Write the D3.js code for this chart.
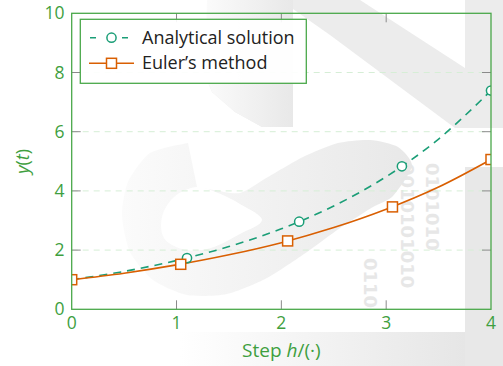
<!DOCTYPE html>
<html><head><meta charset="utf-8">
<script src="https://cdn.jsdelivr.net/npm/d3@7"></script>
<style>
html,body{margin:0;padding:0;background:#fff;}
svg{display:block;font-family:"Open Sans","Noto Sans",sans-serif;}
</style></head>
<body>
<svg id="chart" width="503" height="366"></svg>
<script>
// ---- data ----
const curveX      = [0, 0.5, 1, 1.5, 2, 2.5, 3, 3.5, 4];
const analyticalY = [1, 1.28, 1.65, 2.12, 2.72, 3.49, 4.48, 5.75, 7.39];
const eulerY      = [1, 1.22, 1.5, 1.84, 2.25, 2.76, 3.38, 4.13, 5.06];
const analyticalMarkX = [0, 1.1, 2.17, 3.15, 4];
const analyticalMarkY = [1, 1.73, 2.96, 4.83, 7.39];
const eulerMarkX = [0, 1.04, 2.06, 3.06, 4];
const eulerMarkY = [1, 1.52, 2.31, 3.46, 5.06];
const xTicks = [0, 1, 2, 3, 4];
const yTicks = [0, 2, 4, 6, 8, 10];
const seriesNames = ["Analytical solution", "Euler\u2019s method"];
const seriesColors = ["#1b9e77", "#d95f02"];

const green = "#4aa84a", greenText = "#3f9f3f", tickGray = "#8a8a8a", gridGreen = "#d6eed6";
const svg = d3.select("#chart");

// ---- watermark background (decoration) ----
const defs = svg.append("defs");
const g1 = defs.append("linearGradient").attr("id","wm").attr("x1","0").attr("x2","1").attr("y1","0").attr("y2","0");
g1.append("stop").attr("offset","0").attr("stop-color","#fbfbfb");
g1.append("stop").attr("offset","1").attr("stop-color","#e8e8e8");
const g2 = defs.append("linearGradient").attr("id","wm2").attr("x1","0").attr("x2","1").attr("y1","0").attr("y2","0");
g2.append("stop").attr("offset","0").attr("stop-color","#ffffff");
g2.append("stop").attr("offset","1").attr("stop-color","#e6e6e6");

const bg = svg.append("g");
const line0 = d3.line().curve(d3.curveCatmullRomClosed);
const poly = d3.line();
bg.append("path").attr("fill","#ececec")
  .attr("d", poly([[213,0],[360,0],[465,68],[465,0],[503,0],[503,128],[455,128],[330,35],[293,9],[293,127],[262,127],[235,112],[212,92],[207,80]]) + "Z");
bg.append("path").attr("fill","url(#wm)")
  .attr("d", poly([[207,0],[293,0],[293,127],[262,127],[235,112],[212,92],[205,75]]) + "Z");
bg.append("rect").attr("x",465).attr("y",167).attr("width",38).attr("height",199).attr("fill","#e8e8e8");
bg.append("rect").attr("x",180).attr("y",332).attr("width",285).attr("height",34).attr("fill","url(#wm2)");
bg.append("path").attr("fill","url(#wm)")
  .attr("d", d3.line().curve(d3.curveCardinal.tension(0.3))([
    [188,143],[150,153],[128,182],[122,215],[130,252],[153,280],[187,295],[227,294],[267,278],
    [307,252],[340,228],[373,207],[393,196],[412,166],[398,147],[370,140],[338,143],[303,157],
    [268,177],[240,193],[214,190],[197,187]]) + "Z");
bg.append("path").attr("fill","#ffffff")
  .attr("d", line0([[197,187],[174,197],[162,217],[164,238],[182,249],[207,249],[240,234],[262,220],[240,204],[218,193]]));
const bin = [["0110",364,258],["0010101010",401,163],["0101010",426,163]];
bg.selectAll("text.bin").data(bin).enter().append("text")
  .attr("transform", d => `translate(${d[1]},${d[2]}) rotate(90)`)
  .attr("font-family","DejaVu Sans").attr("font-weight","bold").attr("font-size",18)
  .attr("fill","#e7e7e7").text(d => d[0]);

// ---- scales ----
const x = d3.scaleLinear().domain([0,4]).range([71.7,491]);
const y = d3.scaleLinear().domain([0,10]).range([309.3,13.3]);

defs.append("clipPath").attr("id","clip").append("rect")
  .attr("x",x(0)).attr("y",y(10)).attr("width",x(4)-x(0)).attr("height",y(0)-y(10));

svg.append("g").selectAll("line").data(yTicks.filter(v => v>0 && v<10)).enter().append("line")
  .attr("x1",x(0)).attr("x2",x(4)).attr("y1",d=>y(d)).attr("y2",d=>y(d))
  .attr("stroke",gridGreen).attr("stroke-width",1).attr("stroke-dasharray","6,5");

const tl = 9;
const tg = svg.append("g").attr("stroke",tickGray).attr("stroke-width",1);
xTicks.filter(v=>v>0&&v<4).forEach(v=>{
  tg.append("line").attr("x1",x(v)).attr("x2",x(v)).attr("y1",y(0)).attr("y2",y(0)-tl);
  tg.append("line").attr("x1",x(v)).attr("x2",x(v)).attr("y1",y(10)).attr("y2",y(10)+tl);
});
yTicks.filter(v=>v>0&&v<10).forEach(v=>{
  tg.append("line").attr("y1",y(v)).attr("y2",y(v)).attr("x1",x(0)).attr("x2",x(0)+tl);
  tg.append("line").attr("y1",y(v)).attr("y2",y(v)).attr("x1",x(4)).attr("x2",x(4)-tl);
});

const plot = svg.append("g").attr("clip-path","url(#clip)");
const lineGen = d3.line().x(d=>x(d[0])).y(d=>y(d[1])).curve(d3.curveCatmullRom);
const aData = curveX.map((v,i)=>[v, analyticalY[i]]);
const eData = curveX.map((v,i)=>[v, eulerY[i]]);
plot.append("path").attr("d",lineGen(aData)).attr("fill","none").attr("stroke",seriesColors[0])
  .attr("stroke-width",1.6).attr("stroke-dasharray","8,6");
plot.append("path").attr("d",lineGen(eData)).attr("fill","none").attr("stroke",seriesColors[1])
  .attr("stroke-width",1.6);
plot.selectAll("circle.a").data(analyticalMarkX.map((v,i)=>[v,analyticalMarkY[i]])).enter().append("circle")
  .attr("cx",d=>x(d[0])).attr("cy",d=>y(d[1])).attr("r",4.6)
  .attr("fill","#fff").attr("stroke",seriesColors[0]).attr("stroke-width",1.5);
plot.selectAll("rect.e").data(eulerMarkX.map((v,i)=>[v,eulerMarkY[i]])).enter().append("rect")
  .attr("x",d=>x(d[0])-5).attr("y",d=>y(d[1])-5).attr("width",10).attr("height",10)
  .attr("fill","#fff").attr("stroke",seriesColors[1]).attr("stroke-width",1.5);

svg.append("rect").attr("x",x(0)).attr("y",y(10)).attr("width",x(4)-x(0)).attr("height",y(0)-y(10))
  .attr("fill","none").attr("stroke",green).attr("stroke-width",1.3);

svg.append("g").selectAll("text").data(xTicks).enter().append("text")
  .attr("x",d=>x(d)).attr("y",329).attr("text-anchor","middle")
  .attr("font-size",17.5).attr("fill",greenText).text(d=>d);
svg.append("g").selectAll("text").data(yTicks).enter().append("text")
  .attr("x",64.5).attr("y",d=>y(d)+6).attr("text-anchor","end")
  .attr("font-size",17.5).attr("fill",greenText).text(d=>d);

const xl = svg.append("text").attr("x",(x(0)+x(4))/2).attr("y",357).attr("text-anchor","middle")
  .attr("font-size",19).attr("fill",greenText);
xl.append("tspan").text("Step ");
xl.append("tspan").attr("font-style","italic").text("h");
xl.append("tspan").text("/(\u00b7)");
const yl = svg.append("text").attr("transform",`translate(29,${(y(0)+y(10))/2}) rotate(-90)`)
  .attr("text-anchor","middle").attr("font-size",18).attr("fill",greenText);
yl.append("tspan").attr("font-style","italic").text("y");
yl.append("tspan").text("(");
yl.append("tspan").attr("font-style","italic").text("t");
yl.append("tspan").text(")");

const lg = svg.append("g");
lg.append("rect").attr("x",80.3).attr("y",19.3).attr("width",226).attr("height",64)
  .attr("fill","#fff").attr("fill-opacity",0.92).attr("stroke",green).attr("stroke-width",1.3);
const rows = [37.7, 63.3];
lg.append("line").attr("x1",90).attr("x2",134).attr("y1",rows[0]).attr("y2",rows[0])
  .attr("stroke",seriesColors[0]).attr("stroke-width",1.6).attr("stroke-dasharray","6,26");
lg.append("circle").attr("cx",111.5).attr("cy",rows[0]).attr("r",4.6)
  .attr("fill","#fff").attr("stroke",seriesColors[0]).attr("stroke-width",1.5);
lg.append("line").attr("x1",89).attr("x2",134).attr("y1",rows[1]).attr("y2",rows[1])
  .attr("stroke",seriesColors[1]).attr("stroke-width",1.6);
lg.append("rect").attr("x",106.5).attr("y",rows[1]-5).attr("width",10).attr("height",10)
  .attr("fill","#fff").attr("stroke",seriesColors[1]).attr("stroke-width",1.5);
lg.selectAll("text").data(seriesNames).enter().append("text")
  .attr("x",142).attr("y",(d,i)=>rows[i]+6).attr("font-size",18).attr("fill","#222").text(d=>d);
</script>
</body></html>
